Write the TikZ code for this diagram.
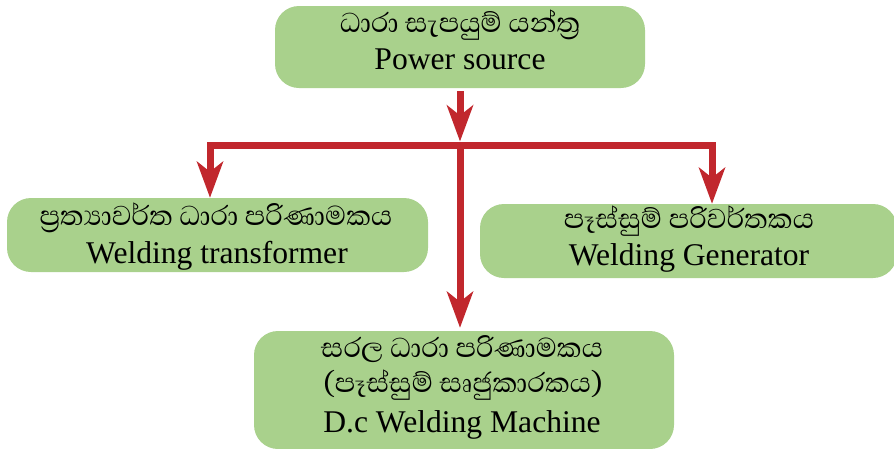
\documentclass[tikz,border=0pt]{standalone}
\usepackage{fontspec}
\setmainfont{Liberation Serif}
\newfontfamily\sinfont[Script=Sinhala]{Abhaya Libre}
\usetikzlibrary{arrows.meta,calc}
\definecolor{boxgreen}{HTML}{A9D18C}
\definecolor{arrred}{HTML}{C1272D}
\begin{document}
\begin{tikzpicture}[x=1pt,y=-1pt,
  box/.style={fill=boxgreen, draw=none, rounded corners=24pt, inner sep=0pt},
  si/.style={font=\sinfont\fontsize{35}{38}\selectfont, anchor=base, inner sep=0pt},
  en/.style={font=\fontsize{31.6}{34}\selectfont, anchor=base, inner sep=0pt},
  arr/.style={draw=arrred, line width=7pt, -{Stealth[length=36pt,width=26pt,inset=10pt]}}]
\useasboundingbox (0,0) rectangle (894,448);
% boxes
\node[box, minimum width=370pt, minimum height=82pt] (top) at (460,47) {};
\node[box, minimum width=421pt, minimum height=74pt] (lb) at (217.5,235) {};
\node[box, minimum width=417pt, minimum height=74pt] (rb) at (688.5,241) {};
\node[box, minimum width=420pt, minimum height=118pt] (bb) at (464,390) {};
% texts
\node[si] (t1) at (460,32) {ධාරා සැපයුම් යන්ත්‍ර};
\node[en] (t2) at (460,69) {Power source};
\node[si] (l1) at (216,225) {ප්‍රත්‍යාවර්ත ධාරා පරිණාමකය};
\node[en] (l2) at (217,263) {Welding transformer};
\node[si] (r1) at (689,228) {පෑස්සුම් පරිවර්තකය};
\node[en] (r2) at (689,265) {Welding Generator};
\node[si] (b1) at (462,357) {සරල ධාරා පරිණාමකය};
\node[si] (b2) at (463,392) {(පෑස්සුම් සෘජුකාරකය)};
\node[en] (b3) at (462,432) {D.c Welding Machine};
% connectors
\coordinate (j) at (460,145);
\draw[arr] ([yshift=-3pt]top.south) -- ([yshift=3.5pt]j);
\draw[arr] (j) -| (lb.north -| 210,0);
\draw[arr] (j) -| (rb.north -| 712,0);
\draw[arr] (j) -- ([xshift=-4pt,yshift=3pt]bb.north);
\end{tikzpicture}
\end{document}
